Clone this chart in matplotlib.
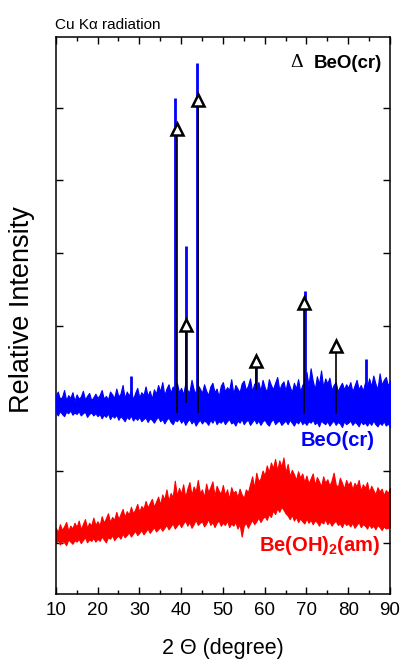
import numpy as np
import matplotlib
matplotlib.use("Agg")
import matplotlib.pyplot as plt
from matplotlib.ticker import MultipleLocator

plt.rcParams['font.family'] = ['Liberation Sans', 'DejaVu Sans']
plt.rcParams['mathtext.fontset'] = 'custom'
plt.rcParams['mathtext.bf'] = 'Liberation Sans:bold'
plt.rcParams['mathtext.rm'] = 'Liberation Sans'

# 2-theta grid for the noisy traces (0.5 degree steps, 10..90)
two_theta = np.arange(10.0, 90.01, 0.5)

# BeO(cr) trace: upper / lower edge of the noisy band (arb. units)
beo_upper = [
    303, 309, 298, 301, 311, 297, 304, 300, 308, 296,
    305, 299, 302, 310, 298, 303, 307, 297, 301, 306,
    300, 304, 311, 299, 303, 298, 309, 305, 300, 313,
    302, 306, 318, 300, 309, 303, 311, 298, 307, 314,
    301, 308, 304, 316, 303, 310, 299, 312, 306, 318,
    309, 322, 304, 313, 319, 307, 316, 311, 321, 308,
    314, 305, 320, 311, 308, 325, 312, 306, 318, 313,
    307, 319, 310, 304, 316, 321, 308, 313, 302, 317,
    322, 309, 315, 311, 326, 306, 318, 313, 308, 320,
    324, 311, 317, 327, 309, 320, 314, 322, 310, 325,
    315, 308, 326, 318, 312, 321, 329, 311, 319, 323,
    310, 325, 316, 308, 321, 313, 326, 309, 318, 322,
    336, 317, 341, 324, 312, 330, 319, 338, 315, 327,
    320, 328, 311, 318, 322, 309, 316, 321, 312, 319,
    314, 322, 309, 317, 325, 312, 318, 310, 321, 315,
    327, 316, 331, 320, 312, 334, 318, 325, 329, 317,
    324]
beo_lower = [
    280, 276, 282, 278, 275, 281, 279, 283, 277, 280,
    278, 282, 276, 279, 281, 274, 278, 280, 276, 279,
    275, 278, 272, 277, 274, 279, 271, 276, 273, 277,
    270, 275, 272, 268, 274, 271, 276, 269, 273, 270,
    274, 268, 271, 273, 267, 272, 270, 266, 271, 274,
    268, 271, 265, 270, 273, 267, 264, 270, 268, 272,
    266, 270, 263, 268, 271, 265, 269, 262, 267, 270,
    265, 269, 267, 263, 270, 266, 272, 264, 268, 266,
    270, 264, 268, 271, 265, 267, 262, 269, 266, 271,
    264, 268, 270, 263, 267, 271, 265, 269, 263, 268,
    270, 265, 262, 268, 271, 264, 267, 269, 263, 266,
    269, 264, 270, 266, 262, 268, 265, 270, 264, 267,
    263, 268, 266, 270, 264, 267, 261, 269, 266, 264,
    268, 262, 266, 269, 263, 267, 265, 260, 268, 264,
    266, 269, 263, 267, 265, 261, 268, 264, 266, 262,
    267, 263, 269, 264, 261, 266, 263, 268, 262, 265,
    260]

# sharp BeO(cr) diffraction peaks
peak_pos = [28.0, 38.55, 41.2, 43.9, 57.9, 69.7, 84.35]
peak_top = [331, 714, 510, 762, 343, 447, 354]
peak_base = 290

# Be(OH)2(am) trace: upper / lower edge of the noisy band
beoh_upper = [
    121, 115, 126, 118, 123, 129, 117, 124, 120, 128,
    122, 131, 119, 126, 133, 121, 128, 124, 135, 125,
    130, 124, 137, 128, 134, 141, 129, 136, 132, 143,
    133, 140, 147, 136, 144, 139, 150, 141, 146, 154,
    143, 151, 147, 158, 149, 155, 161, 150, 157, 164,
    153, 167, 160, 174, 158, 169, 163, 186, 165, 176,
    168, 181, 163, 175, 184, 166, 178, 171, 187, 169,
    174, 163, 182, 170, 177, 185, 165, 179, 172, 168,
    180, 166, 174, 161, 177, 169, 172, 163, 175, 167,
    162, 174, 170, 181, 192, 176, 197, 185, 189, 200,
    193, 207, 198, 211, 203, 216, 200, 214, 205, 218,
    197, 209, 192, 201, 195, 187, 199, 190, 196, 184,
    193, 182, 189, 196, 180, 191, 185, 178, 192, 183,
    188, 179, 186, 197, 181, 177, 190, 183, 175, 187,
    180, 185, 174, 183, 178, 187, 172, 181, 176, 184,
    170, 179, 173, 167, 177, 171, 175, 166, 173, 169,
    176]
beoh_lower = [
    100, 104, 98, 103, 101, 97, 105, 102, 99, 104,
    102, 106, 100, 104, 108, 101, 105, 103, 107, 102,
    106, 103, 109, 105, 101, 108, 106, 111, 104, 108,
    110, 106, 113, 108, 111, 115, 109, 113, 117, 111,
    114, 118, 112, 116, 120, 114, 118, 122, 116, 119,
    122, 117, 121, 125, 119, 123, 127, 120, 124, 128,
    122, 127, 131, 124, 129, 121, 126, 132, 125, 128,
    130, 123, 127, 133, 125, 129, 122, 128, 131, 124,
    128, 125, 131, 122, 127, 124, 129, 120, 126, 109,
    124, 128, 121, 127, 132, 126, 130, 135, 129, 134,
    137, 132, 140, 136, 145, 140, 148, 143, 150, 146,
    141, 138, 133, 139, 131, 136, 129, 134, 130, 127,
    134, 128, 132, 126, 131, 129, 124, 130, 127, 133,
    126, 130, 124, 128, 131, 125, 127, 122, 129, 125,
    127, 123, 128, 121, 125, 129, 122, 126, 124, 120,
    126, 121, 124, 119, 125, 122, 118, 123, 120, 121,
    122]

# reference BeO(cr) markers (triangles) and their stick bottoms
ref_pos = [38.95, 41.1, 43.95, 57.9, 69.5, 77.1]
ref_top = [671, 401, 711, 351, 431, 372]
ref_bottom = [279, 293, 279, 311, 279, 279]

x_ticks = [10, 20, 30, 40, 50, 60, 70, 80, 90]
y_ticks = [100, 200, 300, 400, 500, 600, 700]

fig = plt.figure(figsize=(4.02, 6.59), dpi=100)
ax = fig.add_axes([0.1386, 0.0986, 0.8316, 0.8457])

ax.fill_between(two_theta, beoh_lower, beoh_upper, color='#ff0000',
                linewidth=0.8, edgecolor='#ff0000', zorder=2)
ax.fill_between(two_theta, beo_lower, beo_upper, color='#0000ff',
                linewidth=0.8, edgecolor='#0000ff', zorder=3)
ax.vlines(peak_pos, peak_base, peak_top, color='#0000ff', linewidth=2.0, zorder=4)
ax.vlines(ref_pos, ref_bottom, ref_top, color='black', linewidth=1.2, zorder=5)
ax.plot(ref_pos, ref_top, linestyle='none', marker='^', markersize=9,
        markerfacecolor='white', markeredgecolor='black', markeredgewidth=1.8,
        zorder=6)

ax.set_xlim(10, 90)
ax.set_ylim(29.7, 798.3)
ax.set_xticks(x_ticks)
ax.xaxis.set_minor_locator(MultipleLocator(5))
ax.set_yticks(y_ticks)
ax.set_yticklabels([])
ax.tick_params(axis='both', which='both', direction='in', top=True, right=True,
               width=1.0)
ax.tick_params(axis='both', which='major', length=5)
ax.tick_params(axis='x', which='minor', length=3)
ax.tick_params(axis='x', which='major', labelsize=13.5, pad=6)
for s in ax.spines.values():
    s.set_linewidth(1.1)

ax.text(67.74, 757, '\u0394', fontsize=14, family=['Liberation Serif', 'DejaVu Serif'],
        ha='center', va='baseline')
ax.text(88.08, 755, 'BeO(cr)', fontsize=13.5, fontweight='bold',
        ha='right', va='baseline')
ax.text(86.4, 234, 'BeO(cr)', fontsize=14.5, fontweight='bold', color='#0000ff',
        ha='right', va='baseline')
ax.text(87.6, 89, r'$\mathbf{Be(OH)_2(am)}$', fontsize=14.5, color='#ff0000',
        ha='right', va='baseline')

fig.text(0.137, 0.956, 'Cu K\u03b1 radiation', fontsize=11, ha='left', va='baseline')
fig.text(22 / 402, 0.53, 'Relative Intensity', fontsize=19.5, rotation=90,
         ha='center', va='center')
fig.text(0.555, 1 - 654 / 659, '2 \u0398 (degree)', fontsize=15.5,
         ha='center', va='baseline')

fig.savefig('out.png', dpi=100)
